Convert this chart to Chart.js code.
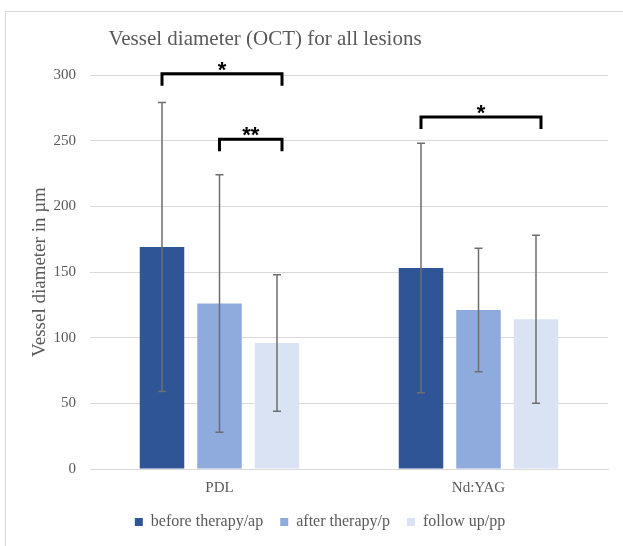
<!DOCTYPE html>
<html>
<head>
<meta charset="utf-8">
<script src="https://cdn.jsdelivr.net/npm/chart.js@4.4.0/dist/chart.umd.min.js"></script>
<style>
  html, body { margin: 0; padding: 0; background: #fff; }
  #wrap { width: 623px; height: 546px; position: relative; }
</style>
</head>
<body>
<div id="wrap"><canvas id="chart"></canvas></div>
<script>
// categories and series
const groups = ['PDL', 'Nd:YAG'];
const seriesNames = ['before therapy/ap', 'after therapy/p', 'follow up/pp'];

const beforeMean = [169, 153];
const afterMean = [126, 121];
const followMean = [96, 114];

const beforeSd = [110, 95];
const afterSd = [98, 47];
const followSd = [52, 64];

const yTicks = [0, 50, 100, 150, 200, 250, 300];

// significance brackets (level in µm)
const brackets = [
  { group: 0, from: 0, to: 2, level: 301, label: '*' },
  { group: 0, from: 1, to: 2, level: 251, label: '**' },
  { group: 1, from: 0, to: 2, level: 268, label: '*' }
];

const colors = ['#2F5597', '#8FAADC', '#DAE3F3'];
const textColor = '#595959';
const serif = "'Liberation Serif', 'Times New Roman', serif";

const means = [beforeMean, afterMean, followMean];
const sds = [beforeSd, afterSd, followSd];

const frame = {
  id: 'frame',
  beforeDraw(chart) {
    const ctx = chart.ctx;
    ctx.save();
    ctx.strokeStyle = '#D9D9D9';
    ctx.lineWidth = 1;
    ctx.strokeRect(5.5, 11.5, 700, 600);
    ctx.restore();
  }
};

const heading = {
  id: 'heading',
  afterDraw(chart) {
    const ctx = chart.ctx;
    ctx.save();
    ctx.fillStyle = textColor;
    ctx.font = '21px ' + serif;
    ctx.textAlign = 'center';
    ctx.textBaseline = 'alphabetic';
    ctx.fillText('Vessel diameter (OCT) for all lesions', 265, 45);
    ctx.restore();
  }
};

const errorBars = {
  id: 'errorBars',
  afterDatasetsDraw(chart) {
    const ctx = chart.ctx;
    const y = chart.scales.y;
    ctx.save();
    ctx.strokeStyle = '#6E6E6E';
    ctx.lineWidth = 1.5;
    chart.data.datasets.forEach((ds, di) => {
      const meta = chart.getDatasetMeta(di);
      meta.data.forEach((bar, i) => {
        const top = y.getPixelForValue(ds.data[i] + sds[di][i]);
        const bot = y.getPixelForValue(ds.data[i] - sds[di][i]);
        ctx.beginPath();
        ctx.moveTo(bar.x, top);
        ctx.lineTo(bar.x, bot);
        ctx.moveTo(bar.x - 4, top);
        ctx.lineTo(bar.x + 4, top);
        ctx.moveTo(bar.x - 4, bot);
        ctx.lineTo(bar.x + 4, bot);
        ctx.stroke();
      });
    });

    // brackets
    ctx.strokeStyle = '#000';
    ctx.fillStyle = '#000';
    ctx.lineWidth = 3;
    ctx.font = "bold 22px 'Liberation Sans', Arial, sans-serif";
    ctx.textAlign = 'center';
    ctx.textBaseline = 'middle';
    brackets.forEach(b => {
      const x1 = chart.getDatasetMeta(b.from).data[b.group].x;
      const x2 = chart.getDatasetMeta(b.to).data[b.group].x + 5;
      const yy = y.getPixelForValue(b.level);
      ctx.beginPath();
      ctx.moveTo(x1, yy + 12);
      ctx.lineTo(x1, yy);
      ctx.lineTo(x2, yy);
      ctx.lineTo(x2, yy + 12);
      ctx.stroke();
      ctx.fillText(b.label, (x1 + x2) / 2, yy - 3);
    });
    ctx.restore();
  }
};

new Chart(document.getElementById('chart'), {
  type: 'bar',
  data: {
    labels: groups,
    datasets: seriesNames.map((name, i) => ({
      label: name,
      data: means[i],
      backgroundColor: colors[i],
      categoryPercentage: 0.666,
      barPercentage: 0.774
    }))
  },
  options: {
    responsive: true,
    maintainAspectRatio: false,
    animation: false,
    layout: { padding: { left: 32, right: 15, top: 75, bottom: 6 } },
    plugins: {
      title: { display: false },
      tooltip: { enabled: false },
      legend: {
        position: 'bottom',
        labels: {
          boxWidth: 8,
          boxHeight: 8,
          padding: 17,
          color: textColor,
          font: { family: serif, size: 16 }
        }
      }
    },
    scales: {
      x: {
        grid: { display: false, drawTicks: false },
        border: { color: '#D9D9D9' },
        ticks: { color: textColor, padding: 10, font: { family: serif, size: 15 } },
        afterFit(scale) { scale.height = 28; }
      },
      y: {
        min: 0,
        max: 300,
        afterBuildTicks(scale) { scale.ticks = yTicks.map(v => ({ value: v })); },
        grid: { color: '#D9D9D9', drawTicks: false },
        border: { display: false },
        ticks: { color: textColor, padding: 14, font: { family: serif, size: 15 } },
        title: {
          display: true,
          text: 'Vessel diameter in µm',
          color: textColor,
          font: { family: serif, size: 19 },
          padding: { top: -3, bottom: 0 }
        },
        afterFit(scale) { scale.width = 58; }
      }
    }
  },
  plugins: [frame, heading, errorBars]
});
</script>
</body>
</html>
